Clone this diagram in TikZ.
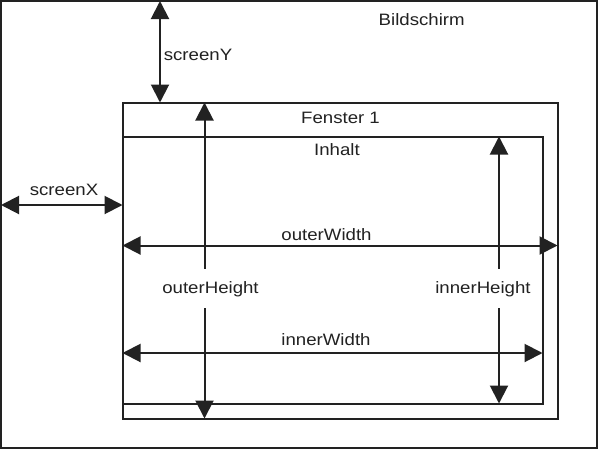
\documentclass[tikz,border=0pt]{standalone}
\usepackage{fontspec}
\setmainfont[FakeStretch=1.13]{Liberation Sans}
\usetikzlibrary{arrows.meta}
\definecolor{ink}{HTML}{222222}
\tikzset{
  frame/.style={draw=ink, line width=2pt},
  dim/.style={draw=ink, line width=2pt, {Triangle[length=18pt,width=18pt]}-{Triangle[length=18pt,width=18pt]}},
  lbl/.style={font=\fontsize{16.5pt}{18pt}\selectfont, text=ink, anchor=base, inner sep=0pt},
  gaplbl/.style={lbl, fill=white, inner xsep=2pt, inner ysep=12pt}
}
\begin{document}
\begin{tikzpicture}[x=1pt,y=-1pt]
\useasboundingbox[fill=white] (0,0) rectangle (599,450);
% screen
\coordinate (s1) at (1,1);
\coordinate (s2) at (597,448);
\draw[frame] (s1) rectangle (s2);
% outer window
\coordinate (o1) at (122.5,102.5);
\coordinate (o2) at (557.5,418.5);
\draw[frame] (o1) rectangle (o2);
% inner window
\coordinate (i1) at (122.5,136.5);
\coordinate (i2) at (542.5,403.5);
\draw[frame] (i1) rectangle (i2);
% arrow end points
\coordinate (syA) at (160,1);
\coordinate (syB) at (160,102.5);
\coordinate (sxA) at (1,205);
\coordinate (sxB) at (122.5,205);
\coordinate (ohA) at (204.5,102.5);
\coordinate (ohB) at (204.5,418.5);
\coordinate (ihA) at (499,136.5);
\coordinate (ihB) at (499,403.5);
\coordinate (owA) at (122.5,245.5);
\coordinate (owB) at (557.5,245.5);
\coordinate (iwA) at (122.5,353);
\coordinate (iwB) at (542.5,353);
\draw[dim] (syA) -- (syB);
\draw[dim] (sxA) -- (sxB);
\draw[dim] (ohA) -- (ohB);
\draw[dim] (ihA) -- (ihB);
\draw[dim] (owA) -- (owB);
\draw[dim] (iwA) -- (iwB);
% labels
\node[lbl] (tBild) at (421.7,25) {Bildschirm};
\node[lbl] (tFen) at (340.5,123.3) {Fenster 1};
\node[lbl] (tInh) at (337,155) {Inhalt};
\node[lbl] (tsy) at (198,60) {screenY};
\node[lbl] (tsx) at (64,195.7) {screenX};
\node[lbl] (tow) at (326.5,240) {outerWidth};
\node[lbl] (tiw) at (326,345) {innerWidth};
\node[gaplbl] (toh) at (210.5,293) {outerHeight};
\node[gaplbl] (tih) at (483,293) {innerHeight};
\end{tikzpicture}
\end{document}
